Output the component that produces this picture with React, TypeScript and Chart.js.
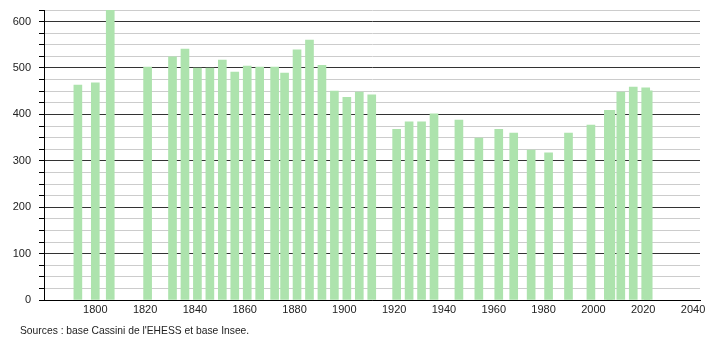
import { useEffect, useRef } from "react";
import { Chart, registerables } from "chart.js";

Chart.register(...registerables);

const years = [
  1793, 1800, 1806, 1821, 1831, 1836, 1841, 1846, 1851, 1856, 1861, 1866, 1872,
  1876, 1881, 1886, 1891, 1896, 1901, 1906, 1911, 1921, 1926, 1931, 1936, 1946,
  1954, 1962, 1968, 1975, 1982, 1990, 1999, 2006, 2007, 2011, 2016, 2021, 2022,
];
const population = [
  463, 468, 630, 502, 524, 541, 500, 500, 517, 491, 504, 502, 502,
  489, 539, 560, 506, 450, 437, 448, 442, 368, 384, 384, 401, 388,
  349, 368, 360, 323, 317, 360, 377, 409, 409, 448, 459, 457, 451,
];
const xTickLabels = [1800, 1820, 1840, 1860, 1880, 1900, 1920, 1940, 1960, 1980, 2000, 2020, 2040];
const sourceText = "Sources : base Cassini de l'EHESS et base Insee.";

export default function App() {
  const ref = useRef<HTMLCanvasElement | null>(null);

  useEffect(() => {
    document.body.style.margin = "0";
    const canvas = ref.current;
    if (!canvas) return;
    const chart = new Chart(canvas, {
      type: "bar",
      data: {
        datasets: [
          {
            data: years.map((y, i) => ({ x: y, y: population[i] })),
            backgroundColor: "#ade3ad",
            borderWidth: 0,
            barThickness: 8,
            clip: 0,
          },
        ],
      },
      options: {
        animation: false,
        responsive: false,
        maintainAspectRatio: false,
        layout: { padding: { left: 0, right: 10, top: 10, bottom: 0 } },
        plugins: {
          legend: { display: false },
          tooltip: { enabled: false },
          title: { display: false },
        },
        scales: {
          x: {
            type: "linear",
            min: 1779.4,
            max: 2042.8,
            offset: false,
            afterBuildTicks: (scale: any) => {
              scale.ticks = xTickLabels.map((v) => ({ value: v }));
            },
            afterFit: (scale: any) => {
              scale.height = 40;
              scale.paddingLeft = 0;
              scale.paddingRight = 0;
            },
            grid: { display: false, drawTicks: false },
            border: { display: true, color: "#000", width: 1 },
            ticks: {
              autoSkip: false,
              maxRotation: 0,
              padding: 3,
              color: "#222",
              font: { family: "'Liberation Sans', Arial, sans-serif", size: 11 },
              callback: (v: any) => String(v),
            },
          },
          y: {
            min: 0,
            max: 625,
            afterFit: (scale: any) => {
              scale.width = 44;
              scale.paddingTop = 0;
              scale.paddingBottom = 0;
            },
            grid: {
              color: (ctx: any) =>
                ctx.tick && ctx.tick.value % 100 === 0 ? "#333333" : "#cccccc",
              lineWidth: 1,
              tickLength: 5,
              tickColor: "#000",
            },
            border: { display: true, color: "#000", width: 1 },
            ticks: {
              stepSize: 25,
              autoSkip: false,
              padding: 8,
              color: "#222",
              font: { family: "'Liberation Sans', Arial, sans-serif", size: 11 },
              callback: (v: any) => (Number(v) % 100 === 0 ? String(v) : ""),
            },
          },
        },
      },
    });
    return () => chart.destroy();
  }, []);

  return (
    <div style={{ position: "absolute", left: 0, top: 0, width: 710, height: 340 }}>
      <canvas ref={ref} width={710} height={340} style={{ width: 710, height: 340 }} />
      <div
        style={{
          position: "absolute",
          left: 20,
          top: 325,
          fontFamily: "'Liberation Sans', Arial, sans-serif",
          fontSize: 10.3,
          color: "#222",
          whiteSpace: "nowrap",
        }}
      >
        {sourceText}
      </div>
    </div>
  );
}
